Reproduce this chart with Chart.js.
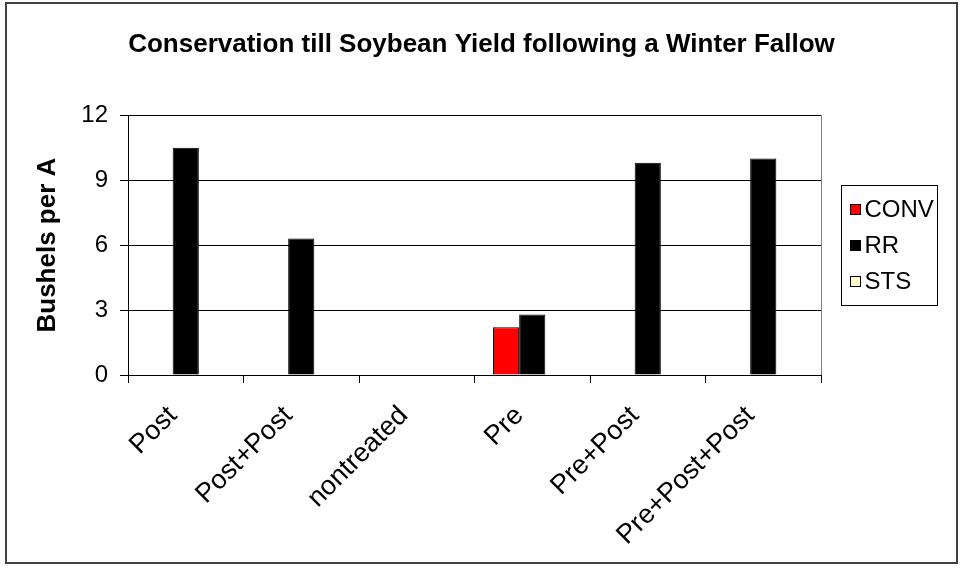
<!DOCTYPE html>
<html>
<head>
<meta charset="utf-8">
<title>Conservation till Soybean Yield following a Winter Fallow</title>
<script src="https://cdn.jsdelivr.net/npm/chart.js@4.4.1/dist/chart.umd.min.js"></script>
<style>
  html, body { margin: 0; padding: 0; background: #fff; }
  canvas { display: block; }
</style>
</head>
<body>
<canvas id="yieldChart" width="963" height="569"></canvas>
<script>
// --- data ---
const categories = ['Post', 'Post+Post', 'nontreated', 'Pre', 'Pre+Post', 'Pre+Post+Post'];
const convValues = [null, null, null, 2.2, null, null];
const rrValues   = [10.5, 6.3, null, 2.8, 9.8, 10.0];
const stsValues  = [null, null, null, null, null, null];
const yTicks     = [0, 3, 6, 9, 12];

const FONT = "'Liberation Sans', Arial, sans-serif";
Chart.defaults.font.family = FONT;
Chart.defaults.color = '#000';

// white page + outer frame
const frame = {
    id: 'frame',
    beforeDraw(chart) {
        const c = chart.ctx;
        c.save();
        c.fillStyle = '#fff';
        c.fillRect(0, 0, chart.width, chart.height);
        c.restore();
    },
    afterDraw(chart) {
        const c = chart.ctx;
        const a = chart.chartArea;
        c.save();
        // plot area right edge (grey like Excel)
        c.strokeStyle = '#808080';
        c.lineWidth = 1;
        c.beginPath();
        c.moveTo(Math.round(a.right) + 0.5, a.top);
        c.lineTo(Math.round(a.right) + 0.5, a.bottom);
        c.stroke();
        // outer chart border
        c.strokeStyle = '#404040';
        c.lineWidth = 2;
        c.strokeRect(6, 3, 951, 560);
        c.restore();
    }
};

// legend in a bordered box, like the Excel one
const boxLegend = {
    id: 'boxLegend',
    afterDraw(chart) {
        const c = chart.ctx;
        const x0 = 841.5, y0 = 185.5, w = 96, h = 120;
        c.save();
        c.strokeStyle = '#000';
        c.lineWidth = 1;
        c.strokeRect(x0, y0, w, h);
        c.font = '24px ' + FONT;
        c.textBaseline = 'middle';
        c.textAlign = 'left';
        chart.data.datasets.forEach((ds, i) => {
            const cy = y0 + 24 + i * 36;
            c.fillStyle = ds.backgroundColor;
            c.fillRect(x0 + 9, cy - 5, 10, 10);
            c.strokeStyle = '#000';
            c.strokeRect(x0 + 9, cy - 5, 10, 10);
            c.fillStyle = '#000';
            c.fillText(ds.label, x0 + 23, cy + 1);
        });
        c.restore();
    }
};

const ctx = document.getElementById('yieldChart');
new Chart(ctx, {
    type: 'bar',
    data: {
        labels: categories,
        datasets: [
            { label: 'CONV', data: convValues, backgroundColor: '#ff0000' },
            { label: 'RR',   data: rrValues,   backgroundColor: '#000000' },
            { label: 'STS',  data: stsValues,  backgroundColor: '#ffffcc' }
        ]
    },
    options: {
        responsive: false,
        animation: false,
        layout: { padding: { left: 6, right: 6, top: 0, bottom: 8 } },
        datasets: {
            bar: {
                borderColor: '#000',
                borderWidth: 1,
                categoryPercentage: 0.68,
                barPercentage: 1.0
            }
        },
        plugins: {
            legend: { display: false },
            tooltip: { enabled: false },
            title: {
                display: true,
                text: 'Conservation till Soybean Yield following a Winter Fallow',
                color: '#000',
                font: { size: 26, weight: 'bold' },
                padding: { top: 29, bottom: 55 }
            }
        },
        scales: {
            x: {
                grid: {
                    drawOnChartArea: false,
                    tickLength: 8,
                    color: '#000'
                },
                border: { color: '#000' },
                ticks: {
                    autoSkip: false,
                    minRotation: 45,
                    maxRotation: 45,
                    labelOffset: -13,
                    padding: 17,
                    font: { size: 27 },
                    color: '#000'
                },
                afterFit: s => { s.height = 186; }
            },
            y: {
                min: 0,
                max: 12,
                afterBuildTicks: s => { s.ticks = yTicks.map(v => ({ value: v })); },
                grid: { color: '#000', tickLength: 8 },
                border: { color: '#000' },
                ticks: { font: { size: 24 }, padding: 12, color: '#000' },
                title: {
                    display: true,
                    text: 'Bushels per A',
                    color: '#000',
                    font: { size: 26, weight: 'bold' },
                    padding: { top: 26, bottom: 0 }
                },
                afterFit: s => { s.width = 122; }
            },
            // empty room on the right that holds the legend box
            legendRoom: {
                type: 'linear',
                position: 'right',
                grid: { display: false },
                border: { display: false },
                ticks: { display: false },
                afterFit: s => { s.width = 136; }
            }
        }
    },
    plugins: [frame, boxLegend]
});
</script>
</body>
</html>
